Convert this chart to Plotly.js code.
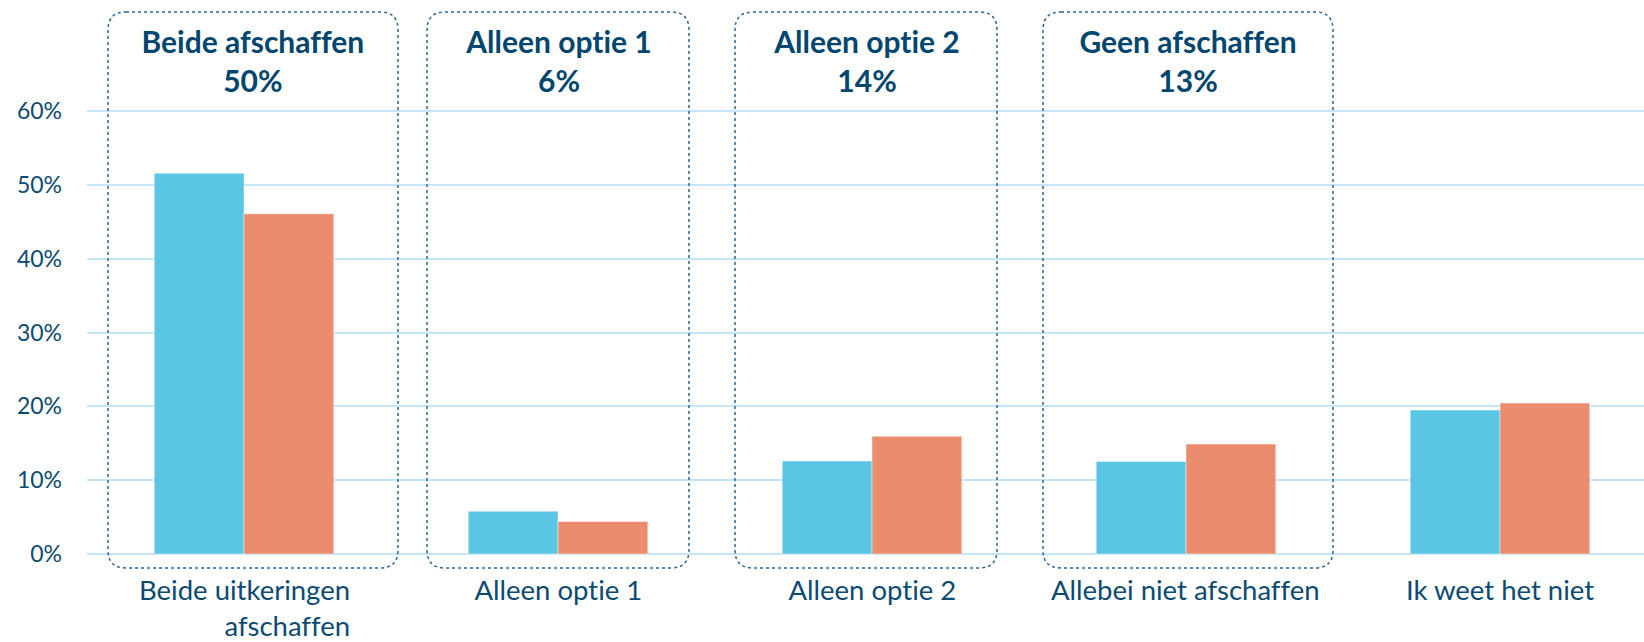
<!DOCTYPE html>
<html>
<head>
<meta charset="utf-8">
<script src="https://cdn.plot.ly/plotly-3.0.1.min.js"></script>
<style>html,body{margin:0;padding:0;background:#fff}#chart{width:1644px;height:642px}#chart text{font-variant-ligatures:none;font-feature-settings:"liga" 0,"dlig" 0;}</style>
</head>
<body>
<div id="chart"></div>
<script>
// ---- data ----
const categories = ['Beide uitkeringen<br>afschaffen', 'Alleen optie 1', 'Alleen optie 2', 'Allebei niet afschaffen', 'Ik weet het niet'];
const seriesBlue = [0.516, 0.058, 0.126, 0.1255, 0.195];
const seriesOrange = [0.461, 0.044, 0.1595, 0.149, 0.2045];
const groupTitles = ['Beide afschaffen', 'Alleen optie 1', 'Alleen optie 2', 'Geen afschaffen'];
const groupTotals = ['50%', '6%', '14%', '13%'];
const yTickVals = [0, 0.1, 0.2, 0.3, 0.4, 0.5, 0.6];

// ---- styling ----
const FONT = 'Lato, "Open Sans", sans-serif';
const TEXT = '#0b4a72';
const GRID = '#c6e6f8';
const PX_PER_CAT = 314;      // pixels per category unit
const PX_PER_Y = 738;        // pixels per 1.0 on y
const W = 1644, H = 642;
const plotLeft = 87, topMargin = 10, zeroPx = 554, plotBottomPx = 582;
const xMax = -0.5 + (W - plotLeft) / PX_PER_CAT;
const yMax = (zeroPx - topMargin) / PX_PER_Y;
const yMin = (zeroPx - plotBottomPx) / PX_PER_Y;

const xIdx = categories.map((_, i) => i);

const traces = [
  {type: 'bar', name: 'Blauw', x: xIdx, y: seriesBlue,
   marker: {color: '#5bc6e4', line: {color: 'rgba(255,255,255,0.45)', width: 1}}, hoverinfo: 'skip'},
  {type: 'bar', name: 'Oranje', x: xIdx, y: seriesOrange,
   marker: {color: '#eb8c6e', line: {color: 'rgba(255,255,255,0.45)', width: 1}}, hoverinfo: 'skip'}
];

// box geometry (pixel offsets relative to category centre, half widths)
const boxOffsetPx = [9, 0, -6, 2];
const boxHalfPx = [145, 131, 131, 145];
const boxTopPx = 12, boxBottomPx = 568, radiusPx = 18;
const yTop = (zeroPx - boxTopPx) / PX_PER_Y;
const yBot = (zeroPx - boxBottomPx) / PX_PER_Y;
const rx = radiusPx / PX_PER_CAT, ry = radiusPx / PX_PER_Y;

const shapes = groupTitles.map((_, i) => {
  const c = i + boxOffsetPx[i] / PX_PER_CAT;
  const x0 = c - boxHalfPx[i] / PX_PER_CAT, x1 = c + boxHalfPx[i] / PX_PER_CAT;
  const y0 = yBot, y1 = yTop;
  const path = `M ${x0+rx},${y1} L ${x1-rx},${y1} Q ${x1},${y1} ${x1},${y1-ry} L ${x1},${y0+ry} Q ${x1},${y0} ${x1-rx},${y0} L ${x0+rx},${y0} Q ${x0},${y0} ${x0},${y0+ry} L ${x0},${y1-ry} Q ${x0},${y1} ${x0+rx},${y1} Z`;
  return {type: 'path', xref: 'x', yref: 'y', path: path,
          line: {color: '#2f6690', width: 1.5, dash: 'dot'}, layer: 'above'};
});

const annotations = [];
groupTitles.forEach((t, i) => {
  annotations.push({
    xref: 'x', yref: 'y', x: i + boxOffsetPx[i] / PX_PER_CAT, y: yTop, yanchor: 'top', xanchor: 'center',
    yshift: -9, showarrow: false, align: 'center',
    text: '<b>' + t + '</b><br><b>' + groupTotals[i] + '</b>',
    font: {family: FONT, size: 30, color: '#00466e'}
  });
});
categories.forEach((c, i) => {
  annotations.push({
    xref: 'x', yref: 'y', x: i, y: 0, yanchor: 'top', xanchor: 'center',
    yshift: -17, showarrow: false, align: 'right',
    text: c, font: {family: FONT, size: 27.5, color: TEXT}
  });
});

const layout = {
  width: W, height: H,
  margin: {l: plotLeft, r: 0, t: topMargin, b: H - plotBottomPx, pad: 0},
  paper_bgcolor: '#ffffff', plot_bgcolor: '#ffffff',
  showlegend: false,
  barmode: 'group', bargap: 0.428, bargroupgap: 0,
  font: {family: FONT, color: TEXT},
  xaxis: {range: [-0.5, xMax], showticklabels: false, showgrid: false, zeroline: false,
          showline: false, ticks: '', fixedrange: true},
  yaxis: {range: [yMin, yMax], tickvals: yTickVals, tickformat: '.0%',
          showgrid: true, gridcolor: GRID, gridwidth: 2,
          zeroline: true, zerolinecolor: GRID, zerolinewidth: 2,
          showline: false, ticks: '', ticklabelstandoff: 24,
          tickfont: {family: FONT, size: 23, color: TEXT}, fixedrange: true},
  shapes: shapes,
  annotations: annotations
};

Plotly.newPlot('chart', traces, layout, {displayModeBar: false, staticPlot: true});
</script>
</body>
</html>
